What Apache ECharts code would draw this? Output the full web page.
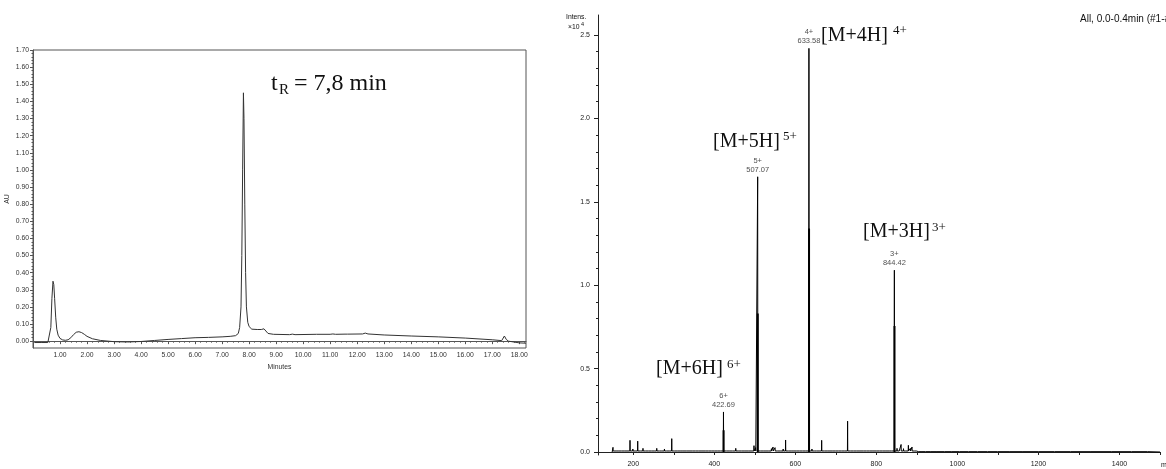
<!DOCTYPE html>
<html><head><meta charset="utf-8">
<script src="https://cdn.jsdelivr.net/npm/echarts@6/dist/echarts.min.js"></script>
<style>html,body{margin:0;padding:0;background:#fff}#c{width:1166px;height:469px}</style>
</head><body><div id="c"></div>
<script>
// ---------- HPLC chromatogram (left) ----------
const lcTime = [0.05,0.3,0.55,0.62,0.66,0.70,0.74,0.77,0.80,0.84,
  0.88,0.93,1.0,1.1,1.2,1.3,1.4,1.5,1.6,1.7,
  1.8,1.9,2.0,2.2,2.5,3.0,3.5,4.0,4.5,5.0,
  5.5,6.0,6.5,7.0,7.3,7.5,7.6,7.65,7.7,7.73,
  7.76,7.79,7.81,7.84,7.87,7.9,7.95,8.0,8.1,8.3,
  8.45,8.55,8.62,8.7,8.9,9.5,9.6,9.7,10.5,11.0,
  11.1,11.2,11.55,11.6,11.65,12.2,12.3,12.4,13.0,14.0,
  15.0,16.0,17.0,17.35,17.45,17.52,17.6,18.0,18.25];
const lcAU = [-0.008,-0.008,-0.008,0.0,0.08,0.25,0.35,0.33,0.25,0.14,
  0.07,0.035,0.016,0.007,0.005,0.008,0.02,0.038,0.052,0.055,
  0.05,0.04,0.028,0.014,0.004,-0.003,-0.005,-0.002,0.004,0.01,
  0.015,0.02,0.022,0.025,0.028,0.032,0.045,0.08,0.2,0.5,
  1.0,1.45,1.3,0.8,0.4,0.2,0.11,0.085,0.07,0.068,
  0.068,0.072,0.065,0.045,0.04,0.038,0.041,0.038,0.04,0.04,
  0.042,0.04,0.041,0.046,0.041,0.042,0.047,0.042,0.036,0.03,
  0.025,0.018,0.008,0.003,0.03,0.01,0.0,-0.01,-0.012];
const lcXLabels = [1,2,3,4,5,6,7,8,9,10,11,12,13,14,15,16,17,18];
const lcYLabels = [0,0.1,0.2,0.3,0.4,0.5,0.6,0.7,0.8,0.9,1.0,1.1,1.2,1.3,1.4,1.5,1.6,1.7];

// ---------- ESI mass spectrum (right) ----------
const msNoiseMz = [150,158,165,171,178,185,192,199,205,211,
  218,224,231,238,245,252,258,265,271,277,
  283,289,295,302,309,316,323,331,338,346,
  354,362,370,378,386,394,401,409,416,430,
  437,445,453,461,468,476,484,491,498,502,
  514,521,528,535,541,545,550,557,563,570,
  576,583,590,597,604,611,618,625,641,647,
  653,659,665,672,679,686,693,700,707,714,
  721,729,737,744,752,760,768,776,784,792,
  800,808,816,824,832,838,851,856,861,867,
  873,879,884,888,893,898,905,913,922,935,
  950,968,985,1005,1028,1050,1075,1100,1130,1160,
  1200,1240,1280,1330,1380,1430,1470];
const msNoiseInt = [0.028,0.012,0.008,0.014,0.010,0.012,0.070,0.018,0.012,0.065,
  0.016,0.022,0.012,0.014,0.010,0.016,0.022,0.012,0.010,0.018,
  0.016,0.014,0.080,0.012,0.010,0.008,0.010,0.009,0.012,0.008,
  0.010,0.007,0.012,0.009,0.011,0.008,0.012,0.010,0.014,0.012,
  0.010,0.012,0.022,0.010,0.012,0.014,0.012,0.016,0.038,0.026,
  0.014,0.012,0.016,0.014,0.020,0.030,0.026,0.016,0.014,0.018,
  0.072,0.016,0.012,0.014,0.012,0.010,0.012,0.010,0.018,0.012,
  0.010,0.014,0.070,0.016,0.012,0.010,0.012,0.014,0.010,0.012,
  0.010,0.185,0.012,0.010,0.012,0.008,0.010,0.012,0.010,0.008,
  0.012,0.010,0.008,0.010,0.012,0.014,0.022,0.016,0.045,0.020,
  0.016,0.040,0.022,0.030,0.014,0.016,0.010,0.008,0.006,0.005,
  0.004,0.004,0.004,0.008,0.004,0.004,0.003,0.004,0.003,0.005,
  0.003,0.003,0.003,0.008,0.003,0.004,0.003];
const ionMz = [422.69, 507.07, 633.58, 844.42];
const ionInt = [0.24, 1.65, 2.42, 1.09];
const ionCharge = [6, 5, 4, 3];
const isoMz = [422.95, 507.30, 633.85, 844.75];
const isoInt = [0.13, 0.83, 1.34, 0.755];
const msStartMz = 148, msEndMz = 1500;
const msFloorNoisy = 0.006, msFloorQuiet = 0.002;
const msXTicks = [200,300,400,500,600,700,800,900,1000,1100,1200,1300,1400,1500];
const msXLabels = [200,400,600,800,1000,1200,1400];
const msYLabels = [0,0.5,1.0,1.5,2.0,2.5];
const msYMinor = [0,0.1,0.2,0.3,0.4,0.5,0.6,0.7,0.8,0.9,1.0,1.1,1.2,1.3,1.4,1.5,1.6,1.7,1.8,1.9,2.0,2.1,2.2,2.3,2.4,2.5];

// ---------- build ----------
const SANS = 'Liberation Sans, Arial, sans-serif';
const SERIF = 'Liberation Serif, Times New Roman, serif';
const lcData = lcTime.map((t,i)=>[t, lcAU[i]]);
const lcXMinor = []; for (let k=1;k<=91;k++) lcXMinor.push(+(k*0.2).toFixed(2));
const lcYMinor = []; for (let k=0;k<=85;k++) lcYMinor.push(+(k*0.02).toFixed(2));

const sticks = msNoiseMz.map((m,i)=>[m, msNoiseInt[i]]).concat(ionMz.map((m,i)=>[m, ionInt[i]]));
sticks.sort((a,b)=>a[0]-b[0]);
const floorAt = m => (m < 900 ? msFloorNoisy : msFloorQuiet);
const trace = [[msStartMz, 0]];
sticks.forEach(([m,h])=>{ trace.push([m-0.4, floorAt(m)], [m, h], [m+0.4, floorAt(m)]); });
trace.push([msEndMz, 0]);
const isoTrace = [];
isoMz.forEach((m,i)=>{ isoTrace.push([m,0],[m,isoInt[i]],[m,'-']); });

const lcAxisColor = '#555';
const msAxisColor = '#222';

function ann(x, y, text, size, family) {
  return {type:'text', x:x, y:y, style:{text:text, fontSize:size, fontFamily:family||SERIF, fill:'#111', verticalAlign:'middle', align:'left'}};
}

const option = {
  animation:false,
  backgroundColor:'#fff',
  grid:[
    {left:33, top:50, width:493, height:298, show:true, borderColor:lcAxisColor, borderWidth:1, outerBoundsMode:'none'},
    {left:598, top:15, width:562, height:440, show:false, outerBoundsMode:'none'}
  ],
  xAxis:[
    {type:'value', gridIndex:0, min:0, max:18.25, position:'bottom',
     axisLine:{show:true, lineStyle:{color:lcAxisColor, width:1}},
     axisTick:{show:true, customValues:lcXLabels, length:3, lineStyle:{color:lcAxisColor}},
     axisLabel:{show:true, customValues:lcXLabels, formatter:v=>Number(v).toFixed(2), fontSize:6.8, fontFamily:SANS, color:'#333', margin:4},
     splitLine:{show:false},
     name:'Minutes', nameLocation:'middle', nameGap:14, nameTextStyle:{fontSize:6.8, fontFamily:SANS, color:'#333'}},
    {type:'value', gridIndex:0, min:0, max:18.25, position:'bottom',
     axisLine:{show:false}, axisLabel:{show:false}, splitLine:{show:false},
     axisTick:{show:true, customValues:lcXMinor, length:1.5, lineStyle:{color:lcAxisColor}}},
    {type:'value', gridIndex:1, min:113, max:1500, position:'bottom',
     axisLine:{show:true, lineStyle:{color:msAxisColor, width:1}},
     axisTick:{show:true, customValues:msXTicks, length:3, lineStyle:{color:msAxisColor}},
     axisLabel:{show:true, customValues:msXLabels, formatter:v=>String(Math.round(v)), fontSize:7, fontFamily:SANS, color:'#222', margin:6},
     splitLine:{show:false}},
    {type:'value', gridIndex:1, min:113, max:1500, position:'top',
     axisLine:{show:true, lineStyle:{color:msAxisColor, width:1}},
     axisTick:{show:false}, axisLabel:{show:false}, splitLine:{show:false}}
  ],
  yAxis:[
    {type:'value', gridIndex:0, min:-0.04, max:1.70, position:'left',
     axisLine:{show:true, lineStyle:{color:lcAxisColor, width:1}},
     axisTick:{show:true, customValues:lcYLabels, length:3, lineStyle:{color:lcAxisColor}},
     axisLabel:{show:true, customValues:lcYLabels, formatter:v=>Number(v).toFixed(2), fontSize:6.8, fontFamily:SANS, color:'#333', margin:4},
     splitLine:{show:false},
     name:'AU', nameLocation:'middle', nameGap:22, nameRotate:90, nameTextStyle:{fontSize:6.8, fontFamily:SANS, color:'#333'}},
    {type:'value', gridIndex:0, min:-0.04, max:1.70, position:'left',
     axisLine:{show:false}, axisLabel:{show:false}, splitLine:{show:false},
     axisTick:{show:true, customValues:lcYMinor, length:1.5, lineStyle:{color:lcAxisColor}}},
    {type:'value', gridIndex:1, min:-0.018, max:2.62, position:'left',
     axisLine:{show:true, lineStyle:{color:msAxisColor, width:1}},
     axisTick:{show:true, customValues:msYLabels, length:4, lineStyle:{color:msAxisColor}},
     axisLabel:{show:true, customValues:msYLabels, formatter:v=>Number(v).toFixed(1), fontSize:7, fontFamily:SANS, color:'#222', margin:8},
     splitLine:{show:false}},
    {type:'value', gridIndex:1, min:-0.018, max:2.62, position:'left',
     axisLine:{show:false}, axisLabel:{show:false}, splitLine:{show:false},
     axisTick:{show:true, customValues:msYMinor, length:2, lineStyle:{color:msAxisColor}}}
  ],
  series:[
    {type:'line', xAxisIndex:0, yAxisIndex:0, data:lcData, showSymbol:false, symbol:'none',
     lineStyle:{color:'#333', width:1}, clip:false, silent:true},
    {type:'line', xAxisIndex:2, yAxisIndex:2, data:trace, showSymbol:false, symbol:'none',
     lineStyle:{color:'#000', width:1}, silent:true},
    {type:'line', xAxisIndex:2, yAxisIndex:2, data:isoTrace, showSymbol:false, symbol:'none', connectNulls:false,
     lineStyle:{color:'#000', width:2}, silent:true},
    {type:'scatter', xAxisIndex:2, yAxisIndex:2, data:ionMz.map((m,i)=>[m, ionInt[i]]),
     symbolSize:1, itemStyle:{color:'rgba(0,0,0,0)'}, silent:true,
     label:{show:true, position:'top', distance:2, fontSize:7.5, lineHeight:9, fontFamily:SANS, color:'#222',
       formatter:p=>ionCharge[p.dataIndex] + '+\n' + ionMz[p.dataIndex].toFixed(2)}}
  ],
  graphic:[
    // retention time note
    ann(271, 84, 't', 24), ann(279, 90, 'R', 15), ann(294, 84, '= 7,8 min', 24),
    // ion annotations
    ann(821, 36, '[M+4H]', 20), ann(893, 31, '4+', 13),
    ann(713, 142, '[M+5H]', 20), ann(783, 137, '5+', 13),
    ann(863, 232, '[M+3H]', 20), ann(932, 228, '3+', 13),
    ann(656, 369, '[M+6H]', 20), ann(727, 365, '6+', 13),
    // spectrum header texts
    ann(566, 17, 'Intens.', 6.8, SANS), ann(568, 27, '×10', 6.8, SANS), ann(581, 24, '4', 5.5, SANS),
    ann(1080, 19, 'All, 0.0-0.4min (#1-#25)', 10, SANS),
    ann(1161, 465, 'm/z', 7, SANS)
  ]
};
const chart = echarts.init(document.getElementById('c'), null, {renderer:'canvas'});
chart.setOption(option);
</script></body></html>
